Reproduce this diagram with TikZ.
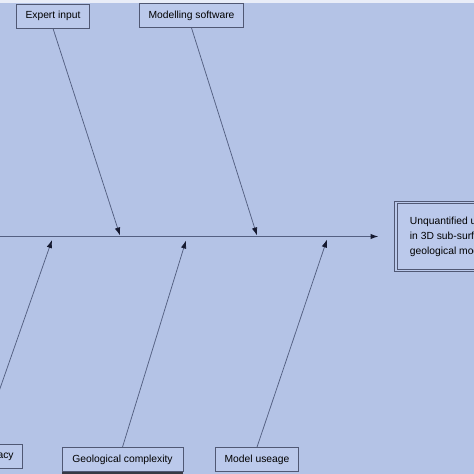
\documentclass[tikz,border=0pt]{standalone}
\usepackage{fontspec}
\setmainfont{Liberation Sans}
\usepackage{xcolor}
\usetikzlibrary{arrows.meta,positioning}
\definecolor{bgblue}{RGB}{180,195,230}
\definecolor{boxblue}{RGB}{187,201,235}
\definecolor{edgegray}{RGB}{80,88,116}
\definecolor{linegray}{RGB}{84,96,130}
\definecolor{tipnavy}{RGB}{22,26,48}
\tikzset{
  cause/.style={
    rectangle, draw=edgegray, line width=0.8pt, fill=boxblue,
    minimum height=24pt, inner xsep=9pt,
    font=\fontsize{10.3}{12}\selectfont
  },
  effect/.style={
    rectangle, draw=edgegray, line width=0.9pt, double=boxblue,
    double distance=1.8pt, fill=boxblue, minimum height=68pt,
    inner xsep=14pt, align=left, font=\fontsize{10.3}{15}\selectfont
  },
  arrow/.style={-{Latex[length=8pt,width=5.5pt,color=tipnavy]}, line width=0.75pt, linegray},
  spine/.style={arrow, line width=1.2pt},
}

\begin{document}
\begin{tikzpicture}[x=1pt,y=-1pt]
  \useasboundingbox (0,0) rectangle (474,474);
  \clip (0,0) rectangle (474,474);
  \fill[bgblue] (0,0) rectangle (474,474);
  \fill[white!70!bgblue] (0,0) rectangle (474,3);

  % Effect (head of the fish)
  \node[effect, anchor=west] (effect) at (395.5,236.5)
    {Unquantified uncertainty\\in 3D sub-surface\\geological models};

  % Causes above the spine
  \node[cause] (expert) at (53,16) {Expert input};
  \node[cause] (software) at (191.5,15.5) {Modelling software};

  % Causes below the spine
  \node[cause, anchor=east] (accuracy) at (23,456) {Data accuracy};
  \node[cause, minimum width=121pt] (geology) at (122.5,459.5) {Geological complexity};
  \node[cause] (useage) at (257,459.5) {Model useage};
  \fill[black!70!bgblue] ([yshift=-0.5pt]geology.south west) rectangle ([yshift=-5pt]geology.south east);

  % Spine
  \coordinate (tail) at (-10,236.5);
  \draw[spine] (tail) -- ([xshift=-17pt]effect.west);

  % Where the causes meet the spine
  \coordinate (t1) at (120,235.5);
  \coordinate (t2) at (257,235.5);
  \coordinate (b1) at (52,240);
  \coordinate (b2) at (186,240.5);
  \coordinate (b3) at (327,239.5);

  % Cause arrows
  \draw[arrow] (expert.south) -- (t1);
  \draw[arrow] (software.south) -- (t2);
  \draw[arrow] (accuracy.north) -- (b1);
  \draw[arrow] (geology.north) -- (b2);
  \draw[arrow] (useage.north) -- (b3);
\end{tikzpicture}
\end{document}
